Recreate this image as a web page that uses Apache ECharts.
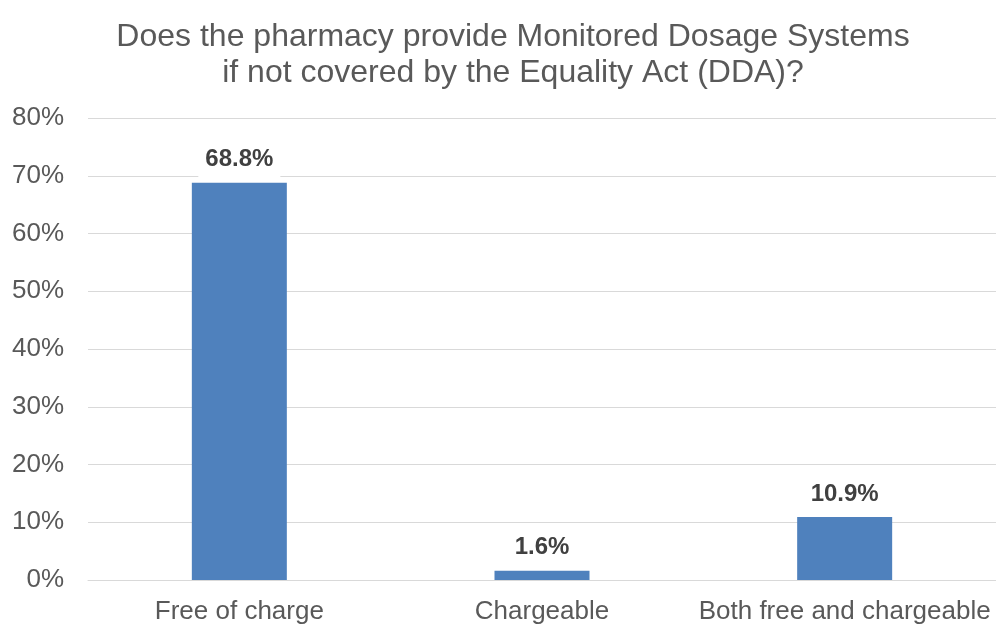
<!DOCTYPE html>
<html>
<head>
<meta charset="utf-8">
<script src="https://cdn.jsdelivr.net/npm/echarts@6/dist/echarts.min.js"></script>
<style>
  html, body { margin: 0; padding: 0; background: #fff; }
  #chart { width: 996px; height: 625px; }
</style>
</head>
<body>
<div id="chart"></div>
<script>
// Survey answers and their shares (percent)
const categories = ['Free of charge', 'Chargeable', 'Both free and chargeable'];
const shares = [68.8, 1.6, 10.9];
const yTicks = [0, 10, 20, 30, 40, 50, 60, 70, 80];

const FONT = 'Liberation Sans, Arial, sans-serif';

const chart = echarts.init(document.getElementById('chart'));
chart.setOption({
  animation: false,
  title: {
    text: 'Does the pharmacy provide Monitored Dosage Systems\nif not covered by the Equality Act (DDA)?',
    left: 508,
    top: 14,
    textAlign: 'center',
    textStyle: {
      fontFamily: FONT,
      fontSize: 32,
      fontWeight: 'normal',
      color: '#595959',
      lineHeight: 36
    }
  },
  grid: { left: 88, right: 0, top: 118, bottom: 45, containLabel: false },
  xAxis: {
    type: 'category',
    data: categories,
    axisLine: { show: true, lineStyle: { color: '#d9d9d9', width: 1 } },
    axisTick: { show: false },
    axisLabel: {
      interval: 0,
      fontFamily: FONT,
      fontSize: 26,
      color: '#595959',
      margin: 19
    }
  },
  yAxis: {
    type: 'value',
    min: yTicks[0],
    max: yTicks[yTicks.length - 1],
    interval: 10,
    axisLine: { show: false },
    axisTick: { show: false },
    splitLine: { lineStyle: { color: '#d9d9d9', width: 1 } },
    axisLabel: {
      formatter: v => v + '%',
      fontFamily: FONT,
      fontSize: 26,
      color: '#595959',
      margin: 24
    }
  },
  series: [{
    type: 'bar',
    data: shares,
    barWidth: 95,
    itemStyle: { color: '#4f81bd' },
    label: {
      show: true,
      position: 'top',
      distance: 3,
      padding: [3, 7, 8, 7],
      backgroundColor: '#ffffff',
      formatter: p => p.value.toFixed(1) + '%',
      fontFamily: FONT,
      fontSize: 24,
      fontWeight: 'bold',
      color: '#404040'
    }
  }]
});
</script>
</body>
</html>
